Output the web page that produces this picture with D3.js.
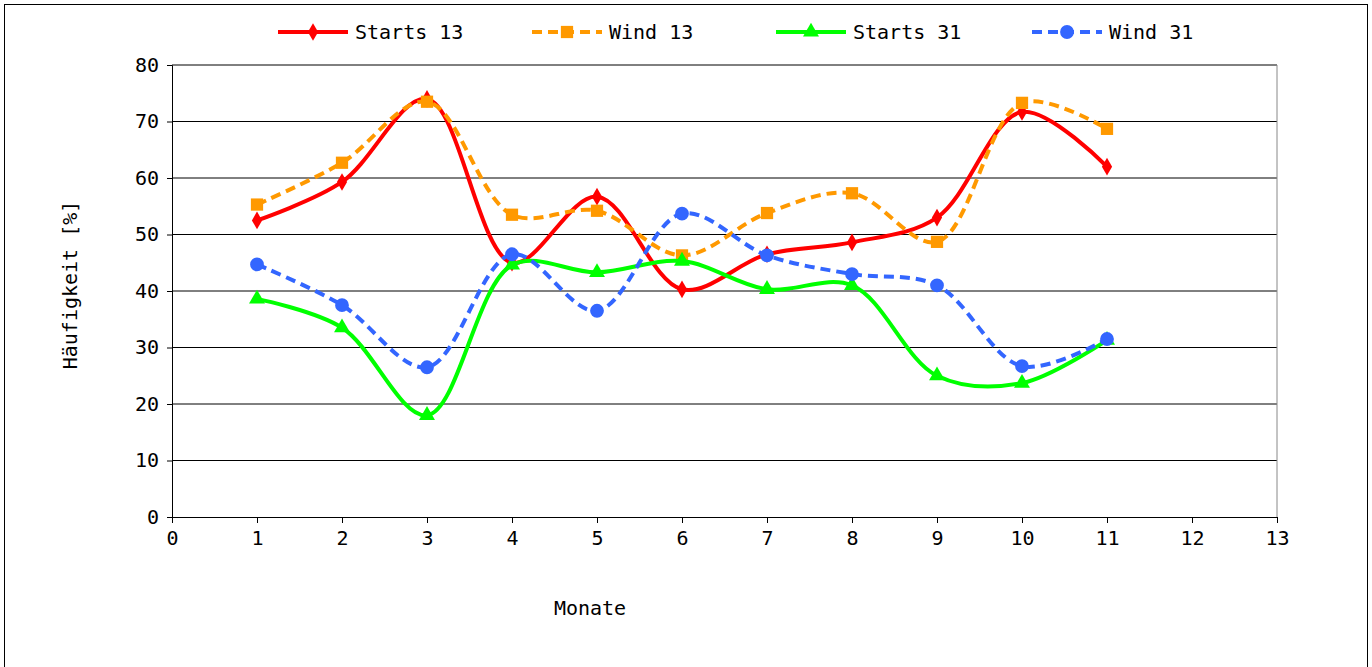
<!DOCTYPE html>
<html><head><meta charset="utf-8">
<script src="https://cdn.jsdelivr.net/npm/d3@7"></script>
<style>body{margin:0;background:#fff}text{font-family:"DejaVu Sans Mono",monospace}</style>
</head><body><svg id="c" width="1372" height="667"></svg>
<script>
const months = [1,2,3,4,5,6,7,8,9,10,11];
const starts13 = [52.5,59.3,74,45,56.7,40.3,46.5,48.6,53,71.7,62];
const wind13 = [55.3,62.7,73.5,53.5,54.2,46.3,53.8,57.3,48.7,73.3,68.7];
const starts31 = [38.6,33.5,18,44.6,43.3,45.3,40.3,41,25,23.7,31.3];
const wind31 = [44.7,37.5,26.5,46.5,36.5,53.7,46.3,43,41,26.7,31.5];
const xTicks = d3.range(0,14);
const yTicks = d3.range(0,90,10);

const svg = d3.select("#c");
svg.append("rect").attr("x",4.5).attr("y",4.5).attr("width",1363).attr("height",670).attr("fill","none").attr("stroke","#000");
const x = d3.scaleLinear().domain([0,13]).range([172,1277]);
const y = d3.scaleLinear().domain([0,80]).range([517,65]);

// grid
svg.append("g").selectAll("line").data(yTicks.slice(1)).join("line")
  .attr("x1",172).attr("x2",1277).attr("y1",d=>y(d)).attr("y2",d=>y(d)).attr("stroke","#000").attr("stroke-width",1);
svg.append("line").attr("x1",1277).attr("x2",1277).attr("y1",65).attr("y2",517).attr("stroke","#888");

const ya = svg.append("g").attr("transform","translate(172,0)")
  .call(d3.axisLeft(y).tickValues(yTicks).tickSize(5).tickPadding(8));
const xa = svg.append("g").attr("transform","translate(0,517)")
  .call(d3.axisBottom(x).tickValues(xTicks).tickSize(6).tickPadding(8));
[ya,xa].forEach(a=>{a.selectAll("text").attr("font-size",20).attr("fill","#000").style("font-family","DejaVu Sans Mono");a.select(".domain").attr("stroke","#000");});

svg.append("text").attr("x",590).attr("y",615).attr("text-anchor","middle").attr("font-size",20).text("Monate");
svg.append("text").attr("transform","translate(77,285) rotate(-90)").attr("text-anchor","middle").attr("font-size",20).text("Häufigkeit [%]");

const series = [
  {name:"Starts 13",vals:starts13,color:"#ff0000",dash:null,sym:d3.symbolDiamond,size:90},
  {name:"Wind 13",vals:wind13,color:"#ff9900",dash:"10,6",sym:d3.symbolSquare,size:150},
  {name:"Starts 31",vals:starts31,color:"#00ff00",dash:null,sym:d3.symbolTriangle,size:110},
  {name:"Wind 31",vals:wind31,color:"#3366ff",dash:"10,6",sym:d3.symbolCircle,size:150}
];
const line = d3.line().x((d,i)=>x(months[i])).y(d=>y(d)).curve(d3.curveCatmullRom.alpha(0.5));
series.forEach(s=>{
  svg.append("path").attr("d",line(s.vals)).attr("fill","none").attr("stroke",s.color)
    .attr("stroke-width",4).attr("stroke-dasharray",s.dash);
  svg.append("g").selectAll("path").data(s.vals).join("path")
    .attr("transform",(d,i)=>`translate(${x(months[i])},${y(d)})`)
    .attr("d",d3.symbol(s.sym,s.size)).attr("fill",s.color);
});
// legend
const lx = [278,532,776,1032];
series.forEach((s,i)=>{
  const g = svg.append("g").attr("transform",`translate(${lx[i]},32)`);
  g.append("line").attr("x1",0).attr("x2",70).attr("stroke",s.color).attr("stroke-width",4).attr("stroke-dasharray",s.dash);
  g.append("path").attr("transform","translate(35,0)").attr("d",d3.symbol(s.sym,s.size)).attr("fill",s.color);
  g.append("text").attr("x",77).attr("y",7).attr("font-size",20).text(s.name);
});
</script></body></html>
